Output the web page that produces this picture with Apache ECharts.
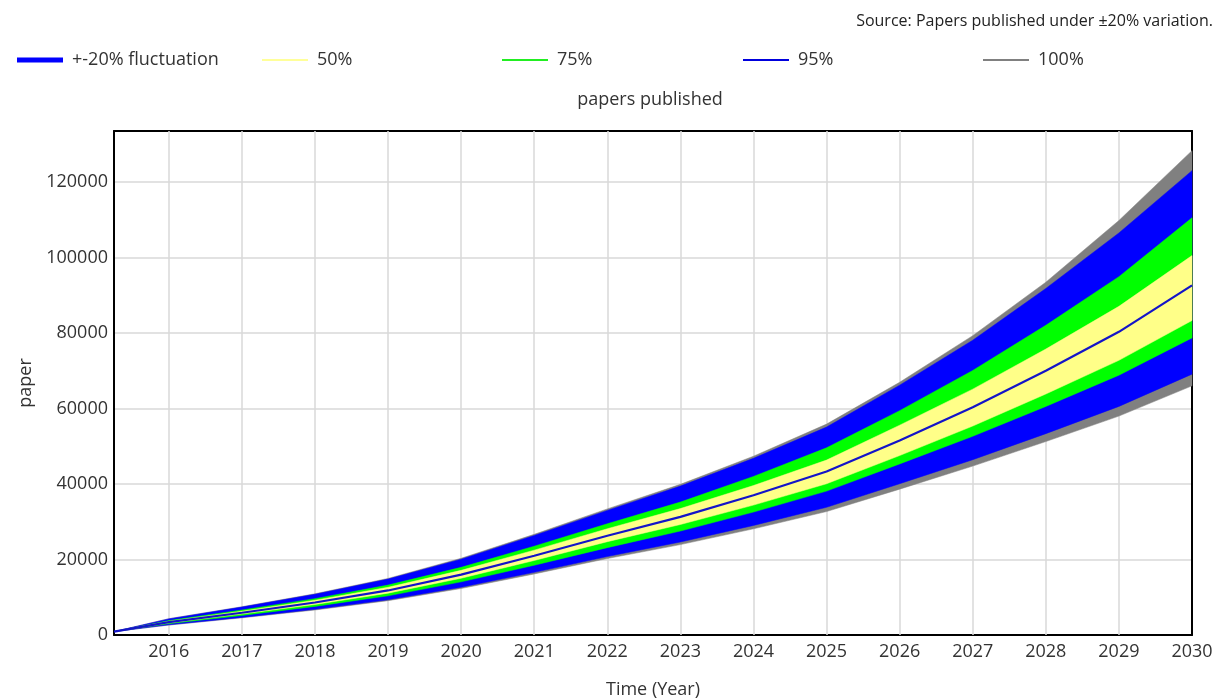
<!DOCTYPE html>
<html>
<head>
<meta charset="utf-8">
<title>papers published</title>
<script src="https://cdn.jsdelivr.net/npm/echarts@6/dist/echarts.min.js"></script>
<style>
  html, body { margin: 0; padding: 0; background: #fff; }
  #chart { width: 1227px; height: 700px; }
</style>
</head>
<body>
<div id="chart"></div>
<script>
// time points (years) and tick labels
var years = [2015.25, 2016, 2017, 2018, 2019, 2020, 2021, 2022, 2023, 2024, 2025, 2026, 2027, 2028, 2029, 2030];
var yearTicks = [2016, 2017, 2018, 2019, 2020, 2021, 2022, 2023, 2024, 2025, 2026, 2027, 2028, 2029, 2030];

// median run (+-20% fluctuation)
var median = [900, 3400, 5900, 8600, 11800, 16000, 21000, 26300, 31300, 37000, 43300, 51500, 60300, 70000, 80300, 92600];

// confidence bounds
var p100Upper = [900, 4320, 7490, 10920, 14990, 20320, 26670, 33400, 39910, 47360, 55860, 66950, 79290, 93450, 109800, 128300];
var p95Upper  = [900, 4270, 7400, 10790, 14810, 20080, 26360, 33010, 39440, 46800, 55080, 66180, 78090, 91800, 106500, 123000];
var p75Upper  = [900, 3810, 6610, 9630, 13220, 17920, 23520, 29460, 35210, 42000, 49580, 59430, 70070, 82040, 94910, 110500];
var p50Upper  = [900, 3640, 6310, 9200, 12630, 17120, 22470, 28140, 33490, 39590, 46330, 55570, 65120, 75740, 87050, 100500];
var p50Lower  = [900, 3200, 5550, 8080, 11090, 15040, 19740, 24720, 29270, 34410, 40060, 47530, 55350, 63840, 72750, 83300];
var p75Lower  = [900, 2990, 5190, 7570, 10380, 14080, 18480, 23140, 27540, 32560, 38110, 45320, 52640, 60550, 68820, 78700];
var p95Lower  = [900, 2690, 4660, 6790, 9320, 12640, 16590, 20780, 24630, 29010, 33820, 40070, 46430, 53340, 60550, 69100];
var p100Lower = [900, 2620, 4540, 6620, 9090, 12320, 16170, 20250, 23940, 28120, 32700, 38630, 44740, 51240, 57980, 66000];

var FONT = 'Open Sans';
var TXT = '#333';
var Y_MAX = 133500;

// band polygon: upper bound left->right, lower bound back right->left
function band(name, lo, hi, color) {
  return {
    name: name, type: 'custom', silent: true, z: 3,
    itemStyle: { color: color },
    encode: { x: 0, y: [1, 2] },
    data: years.map(function (x, i) { return [x, lo[i], hi[i]]; }),
    renderItem: function (params, api) {
      if (params.dataIndex !== 0) return;
      var pts = [];
      for (var i = 0; i < years.length; i++) pts.push(api.coord([years[i], hi[i]]));
      for (var j = years.length - 1; j >= 0; j--) pts.push(api.coord([years[j], lo[j]]));
      return {
        type: 'polygon',
        shape: { points: pts },
        style: { fill: color, stroke: color, lineWidth: 0.5 }
      };
    }
  };
}

var series = [
  {
    // vertical grid lines at the year ticks, kept under the bands
    type: 'line', data: [], silent: true, z: 1,
    markLine: {
      silent: true, symbol: 'none', label: { show: false }, animation: false, z: 1,
      lineStyle: { color: '#d9d9d9', width: 1.5, type: 'solid' },
      data: yearTicks.slice(0, -1).map(function (y) { return { xAxis: y }; })
    }
  },
  band('100%', p100Lower, p100Upper, '#808080'),
  band('95%', p95Lower, p95Upper, '#0000ff'),
  band('75%', p75Lower, p75Upper, '#00ff00'),
  band('50%', p50Lower, p50Upper, '#ffff88'),
  {
    name: '+-20% fluctuation', type: 'line', symbol: 'none', z: 5, silent: true,
    data: years.map(function (x, i) { return [x, median[i]]; }),
    itemStyle: { color: '#0000ff' },
    lineStyle: { width: 2.2, color: '#1414c8' }
  }
];

function legendAt(left, name, color, h) {
  return {
    left: left, top: 46, icon: 'rect', itemWidth: 46, itemHeight: h, itemGap: 0,
    selectedMode: false,
    textStyle: { fontFamily: FONT, fontSize: 18, color: TXT, padding: [0, 0, 0, 4] },
    data: [{ name: name, itemStyle: { color: color } }]
  };
}

var frameLine = { show: true, onZero: false, lineStyle: { color: '#000', width: 2 } };

var chart = echarts.init(document.getElementById('chart'));
chart.setOption({
  animation: false,
  backgroundColor: '#fff',
  title: [
    {
      text: 'Source: Papers published under ±20% variation.',
      right: 9, top: 8,
      textStyle: { fontFamily: FONT, fontSize: 16, fontWeight: 'normal', color: '#222' }
    },
    {
      text: 'papers published',
      left: 645, textAlign: 'center', top: 86,
      textStyle: { fontFamily: FONT, fontSize: 18, fontWeight: 'normal', color: TXT }
    }
  ],
  legend: [
    legendAt(12, '+-20% fluctuation', '#0000ff', 5),
    legendAt(257, '50%', '#ffff99', 2),
    legendAt(497, '75%', '#22ee22', 2),
    legendAt(738, '95%', '#0000dd', 2),
    legendAt(978, '100%', '#808080', 2)
  ],
  grid: { left: 114, right: 35, top: 131, bottom: 65, outerBoundsMode: 'none', containLabel: false },
  xAxis: [
    {
      type: 'value', min: 2015.25, max: 2030,
      name: 'Time (Year)', nameLocation: 'middle', nameGap: 46,
      nameTextStyle: { fontFamily: FONT, fontSize: 18, color: TXT },
      axisLine: frameLine,
      axisTick: { show: false, customValues: yearTicks },
      splitLine: { show: false },
      axisLabel: {
        customValues: yearTicks, fontFamily: FONT, fontSize: 18, color: TXT, margin: 8,
        formatter: function (v) { return String(Math.round(v)); }
      }
    },
    {
      type: 'value', min: 2015.25, max: 2030, position: 'top',
      axisLine: frameLine, axisTick: { show: false }, axisLabel: { show: false }, splitLine: { show: false }
    }
  ],
  yAxis: [
    {
      type: 'value', min: 0, max: Y_MAX, interval: 20000,
      name: 'paper', nameLocation: 'middle', nameGap: 76,
      nameTextStyle: { fontFamily: FONT, fontSize: 18, color: TXT },
      axisLine: frameLine,
      axisTick: { show: false },
      splitLine: { show: true, lineStyle: { color: '#d9d9d9', width: 1.5 } },
      axisLabel: {
        fontFamily: FONT, fontSize: 18, color: TXT, margin: 6, showMaxLabel: false,
        formatter: function (v) { return String(v); }
      }
    },
    {
      type: 'value', min: 0, max: Y_MAX, position: 'right',
      axisLine: frameLine, axisTick: { show: false }, axisLabel: { show: false }, splitLine: { show: false }
    }
  ],
  series: series
});
</script>
</body>
</html>
